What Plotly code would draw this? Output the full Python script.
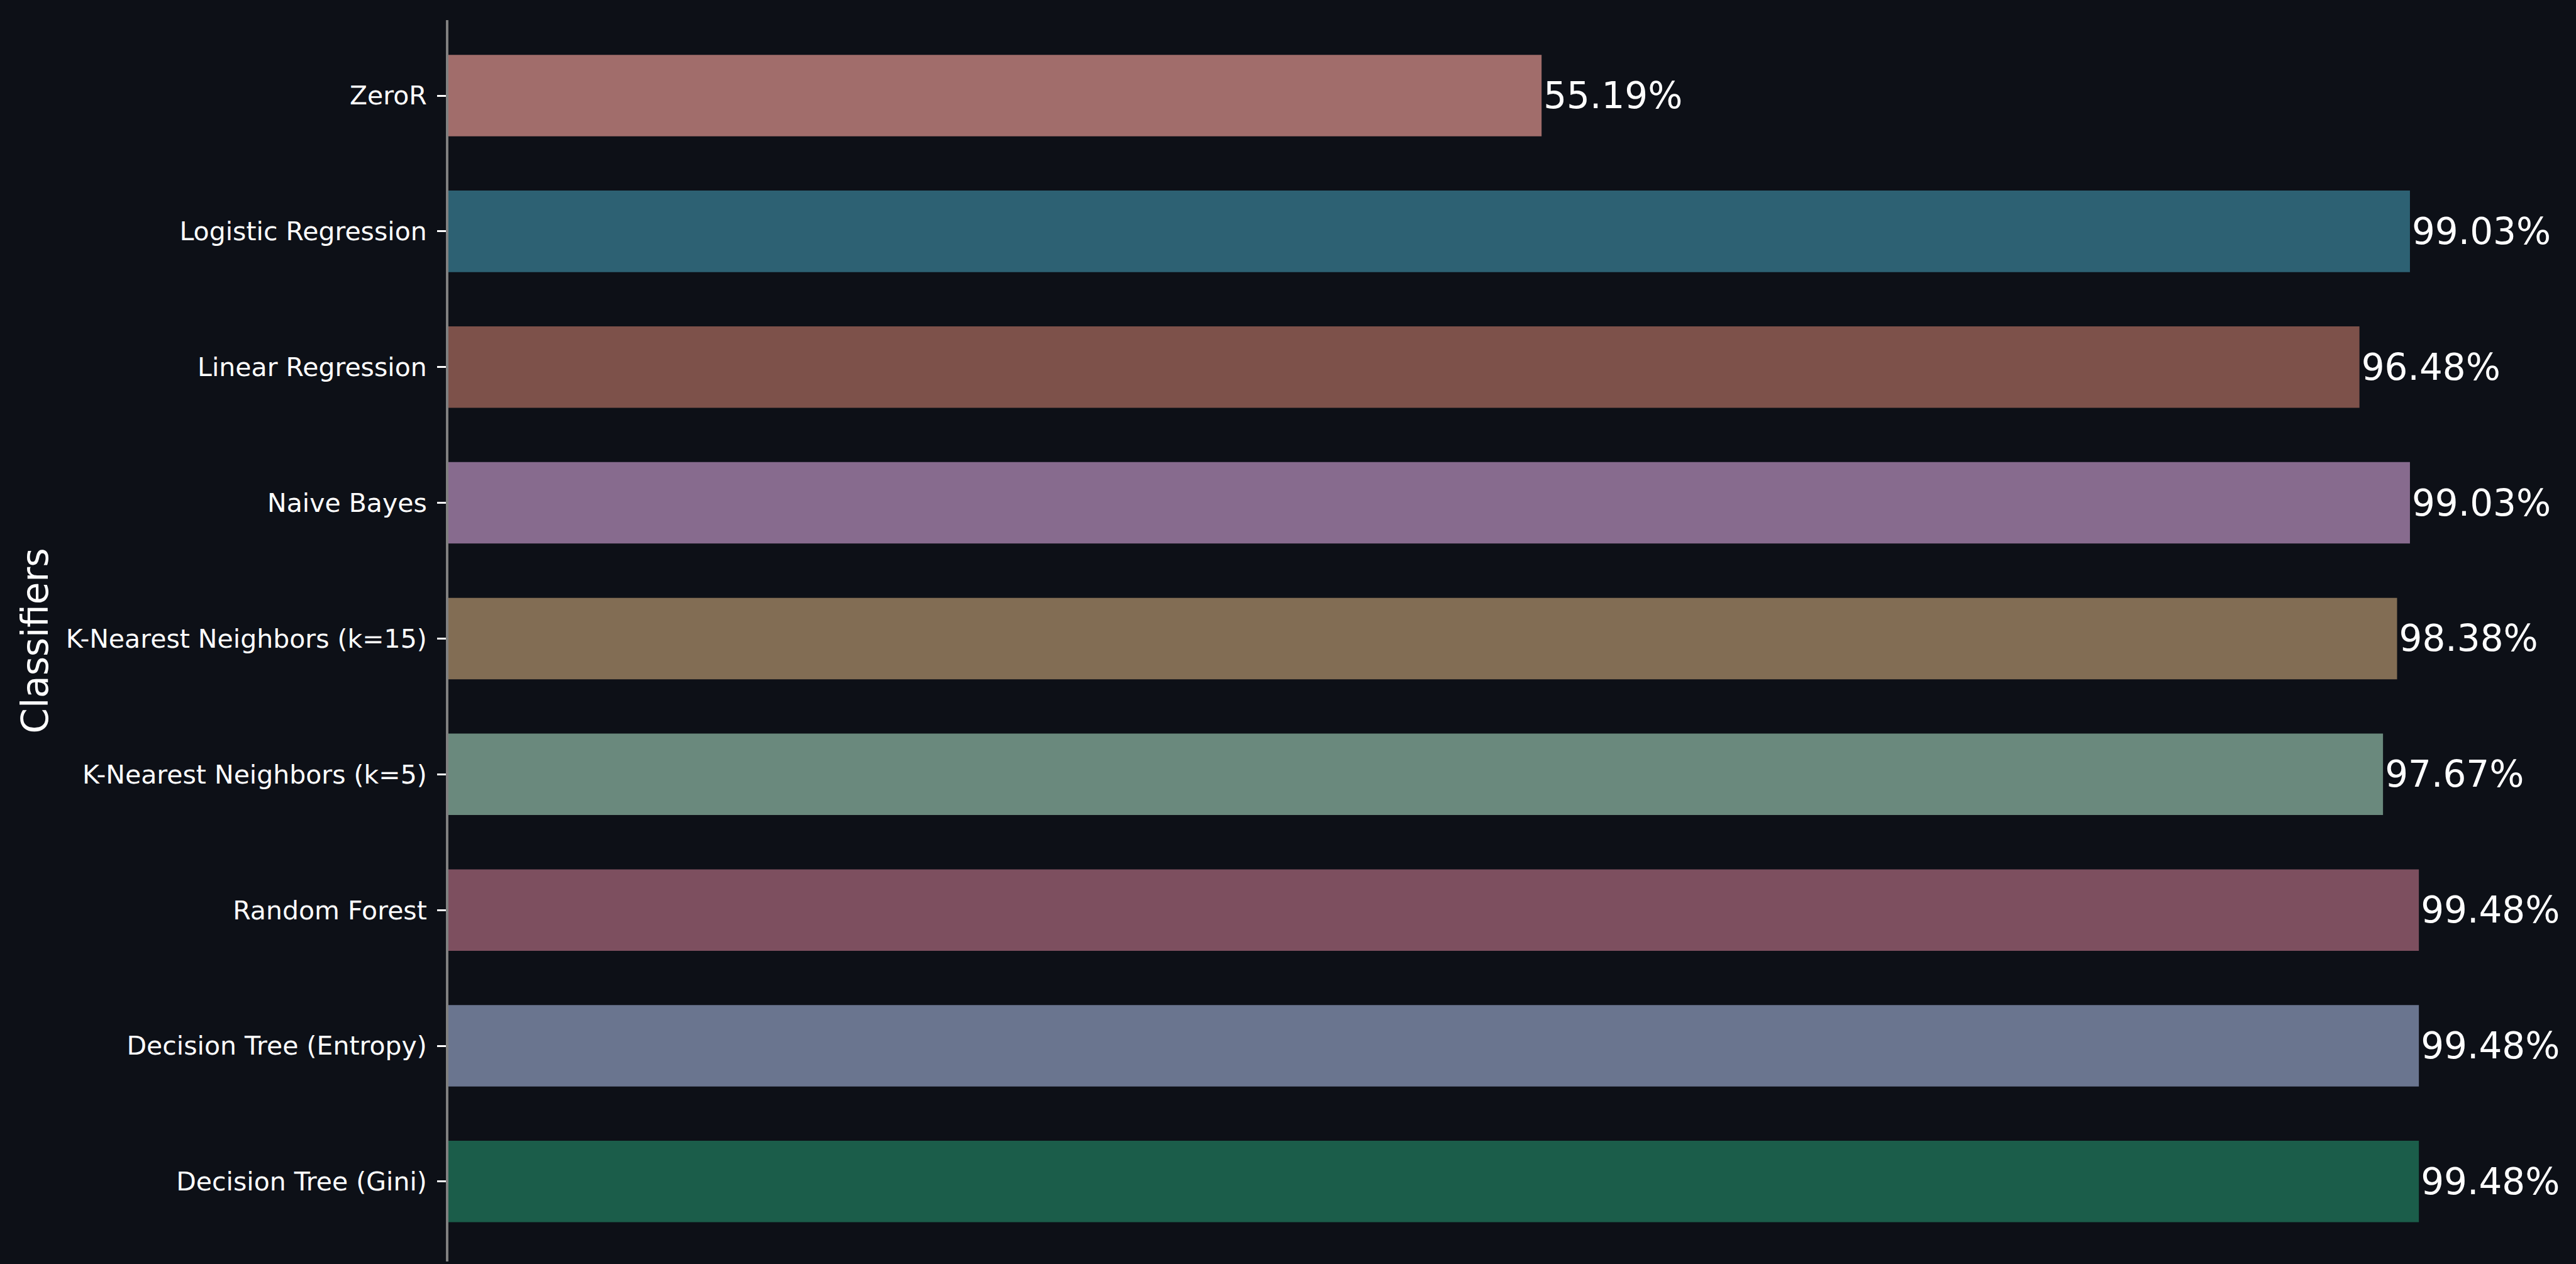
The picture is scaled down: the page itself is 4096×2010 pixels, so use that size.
import plotly.graph_objects as go

classifiers = ["ZeroR", "Logistic Regression", "Linear Regression", "Naive Bayes",
               "K-Nearest Neighbors (k=15)", "K-Nearest Neighbors (k=5)",
               "Random Forest", "Decision Tree (Entropy)", "Decision Tree (Gini)"]
accuracy = [55.19, 99.03, 96.48, 99.03, 98.38, 97.67, 99.48, 99.48, 99.48]
bar_colors = ["#A16D6B", "#2D6173", "#7D514A", "#876B8E", "#826D54",
              "#6A897D", "#7D4F5F", "#6A758F", "#1B5D4A"]

BG = "#0D1017"
W, H = 4096, 2010
ML, MR, MT, MB = 713, 76, 32, 4
XMAX = 105.0

fig = go.Figure()
fig.add_trace(go.Bar(
    x=accuracy, y=classifiers, orientation="h",
    marker=dict(color=bar_colors, line=dict(width=0)),
    width=0.6,
    text=[f"{v:.2f}%" for v in accuracy],
    textposition="outside",
    textfont=dict(family="DejaVu Sans", size=58, color="white"),
    cliponaxis=False,
    constraintext="none",
    hoverinfo="skip",
))

pw = W - ML - MR
fig.add_annotation(
    text="Classifiers", textangle=-90,
    xref="paper", yref="paper",
    x=(55.5 - ML) / pw, y=0.5,
    xanchor="center", yanchor="middle",
    showarrow=False,
    font=dict(family="DejaVu Sans", size=58, color="white"),
)

fig.update_layout(
    width=W, height=H,
    margin=dict(l=ML, r=MR, t=MT, b=MB, pad=0),
    paper_bgcolor=BG, plot_bgcolor=BG,
    showlegend=False,
    font=dict(family="DejaVu Sans", color="white"),
    xaxis=dict(range=[0, XMAX], visible=False, showgrid=False, zeroline=False),
    yaxis=dict(
        type="category",
        categoryorder="array", categoryarray=classifiers,
        range=[8.589, -0.556],
        showgrid=False, zeroline=False,
        showline=True, linecolor="#808080", linewidth=4,
        ticks="outside", ticklen=14, tickwidth=3, tickcolor="white",
        tickfont=dict(family="DejaVu Sans", size=41, color="white"),
        ticklabelstandoff=8,
    ),
)

fig.write_html("out.html")
